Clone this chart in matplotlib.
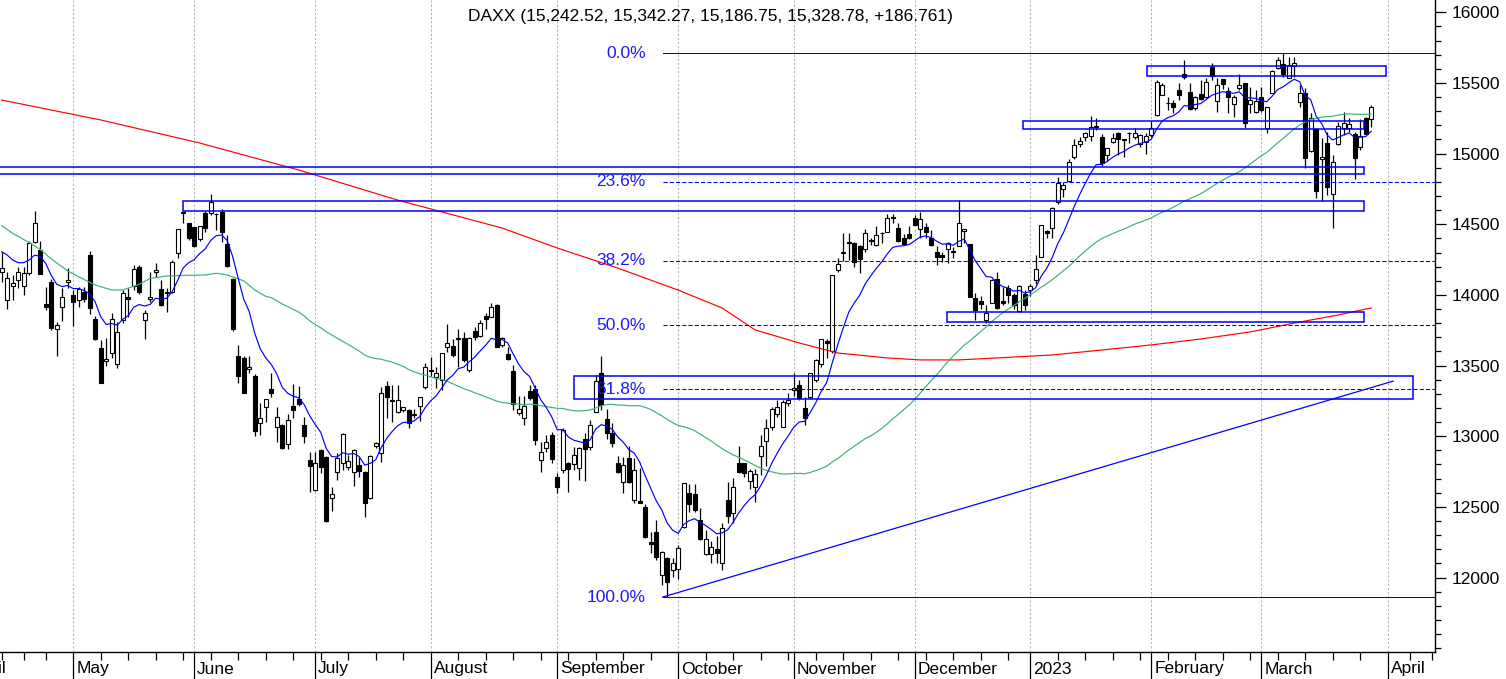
import numpy as np
import pandas as pd
import matplotlib
matplotlib.use("Agg")
from matplotlib import pyplot as plt
from matplotlib.patches import Rectangle
import matplotlib.transforms as mtransforms

plt.rcParams["font.family"] = ["Liberation Sans", "DejaVu Sans"]

# --- daily candles, 11 Apr 2022 .. 29 Mar 2023 ---
first_day = "2022-04-11"
holidays = ["2022-04-15", "2022-04-18", "2022-12-26", "2023-04-07", "2023-04-10"]

opens = [
    14160, 13964, 14063, 14105, 14063, 14152, 14372, 14317, 13935, 14089,
    13756, 13912, 14089, 14000, 13964, 14018, 14282, 13827, 13622, 13530,
    13586, 13511, 13822, 13987, 14065, 14195, 13822, 13969, 14160, 14039,
    14010, 14018, 14294, 14580, 14506, 14478, 14393, 14582, 14577, 14575,
    14589, 14360, 14113, 13568, 13551, 13473, 13428, 13091, 13204, 13332,
    13063, 13079, 12945, 13214, 13261, 13079, 12830, 12619, 12903, 12855,
    12560, 12749, 12808, 12780, 12749, 12796, 12749, 12560, 12930, 12879,
    13355, 13250, 13174, 13186, 13186, 13150, 13214, 13351, 13465, 13417,
    13398, 13634, 13638, 13685, 13693, 13469, 13744, 13709, 13853, 13846,
    13928, 13645, 13582, 13461, 13162, 13127, 13322, 13332, 12831, 12914,
    13008, 12714, 12761, 12813, 12803, 12773, 12978, 12921, 13174, 13445,
    13119, 13025, 12808, 12678, 12843, 12549, 12540, 12497, 12250, 12325,
    12018, 12136, 12053, 12060, 12355, 12600, 12591, 12407, 12166, 12166,
    12199, 12105, 12548, 12459, 12808, 12808, 12685, 12638, 12860, 12968,
    13063, 13157, 13068, 13233, 13330, 13362, 13200, 13280, 13398, 13511,
    13675, 13605, 14176, 14294, 14370, 14370, 14346, 14322, 14385, 14353,
    14436, 14448, 14545, 14471, 14400, 14431, 14542, 14464, 14483, 14400,
    14306, 14282, 14322, 14310, 14346, 14454, 14360, 13976, 13960, 13822,
    13940, 14110, 13960, 14051, 13999, 13888, 14006, 14035, 14105, 14271,
    14452, 14471, 14660, 14747, 14806, 14974, 15066, 15115, 15125, 15190,
    15115, 14990, 15082, 15143, 15100, 15145, 15115, 15068, 15085, 15132,
    15273, 15415, 15355, 15360, 15450, 15563, 15438, 15320, 15422, 15398,
    15611, 15375, 15526, 15445, 15351, 15462, 15497, 15351, 15297, 15398,
    15179, 15431, 15603, 15634, 15533, 15620, 15368, 15431, 15019, 15172,
    14960, 15073, 14712, 15066, 15179, 15179, 15136, 15050, 15254, 15242.52,
]
highs = [
    14306, 14164, 14141, 14195, 14200, 14380, 14593, 14380, 14058, 14110,
    13810, 14046, 14188, 14035, 14058, 14058, 14311, 13851, 13681, 13693,
    13870, 13811, 14035, 14046, 14212, 14212, 13890, 14164, 14223, 14105,
    14046, 14247, 14464, 14596, 14511, 14483, 14490, 14596, 14714, 14582,
    14606, 14424, 14117, 13646, 13568, 13568, 13438, 13233, 13261, 13450,
    13204, 13085, 13157, 13370, 13355, 13134, 12891, 12891, 12907, 12860,
    12640, 12879, 13020, 12867, 12907, 12855, 12755, 12867, 12961, 13351,
    13393, 13362, 13362, 13210, 13190, 13190, 13280, 13520, 13563, 13492,
    13591, 13792, 13686, 13756, 13740, 13700, 13775, 13822, 13874, 13945,
    13935, 13700, 13634, 13504, 13285, 13285, 13362, 13362, 12961, 13008,
    13032, 12737, 13056, 12820, 12921, 12926, 13020, 13115, 13433, 13568,
    13190, 13096, 12860, 12855, 12931, 12843, 12773, 12520, 12325, 12407,
    12190, 12147, 12136, 12230, 12667, 12662, 12662, 12490, 12336, 12261,
    12294, 12383, 12678, 12702, 12931, 12810, 12766, 12766, 13008, 13119,
    13204, 13256, 13256, 13308, 13450, 13398, 13280, 13450, 13544, 13686,
    13690, 14141, 14259, 14436, 14436, 14377, 14353, 14464, 14400, 14488,
    14448, 14573, 14573, 14506, 14431, 14488, 14565, 14589, 14506, 14459,
    14346, 14306, 14377, 14341, 14672, 14464, 14360, 14011, 13990, 13928,
    14110, 14164, 14058, 14070, 14010, 14070, 14035, 14075, 14282, 14495,
    14459, 14620, 14832, 14801, 14959, 15101, 15120, 15155, 15266, 15250,
    15139, 15037, 15143, 15150, 15105, 15155, 15179, 15139, 15143, 15233,
    15521, 15497, 15403, 15379, 15497, 15662, 15497, 15408, 15521, 15533,
    15639, 15533, 15530, 15474, 15415, 15563, 15500, 15474, 15450, 15474,
    15332, 15592, 15681, 15710, 15686, 15681, 15485, 15462, 15285, 15179,
    15108, 15155, 14990, 15226, 15292, 15250, 15155, 15245, 15261, 15342.27,
]
lows = [
    14093, 13897, 13964, 14046, 14000, 14140, 14365, 14145, 13893, 13751,
    13570, 13817, 14046, 13780, 13917, 13952, 13865, 13681, 13379, 13500,
    13551, 13480, 13803, 13846, 14035, 14004, 13686, 13952, 14129, 13921,
    13877, 14011, 14259, 14511, 14388, 14337, 14385, 14448, 14565, 14459,
    14377, 14195, 13747, 13379, 13303, 13450, 13001, 13009, 13103, 13280,
    12961, 12912, 12907, 13127, 13214, 12950, 12607, 12610, 12742, 12395,
    12470, 12690, 12761, 12761, 12650, 12714, 12431, 12555, 12914, 12820,
    13126, 13103, 13162, 13170, 13056, 13130, 13110, 13332, 13426, 13339,
    13327, 13598, 13563, 13492, 13527, 13457, 13681, 13704, 13756, 13841,
    13629, 13634, 13539, 13186, 13150, 13079, 13256, 12938, 12749, 12890,
    12813, 12595, 12742, 12607, 12761, 12690, 12685, 12902, 13170, 13185,
    12978, 12921, 12742, 12600, 12671, 12530, 12525, 12277, 12171, 12124,
    11950, 11862, 12006, 11990, 12350, 12466, 12466, 12266, 12159, 12100,
    12100, 12053, 12388, 12383, 12737, 12714, 12624, 12537, 12726, 12789,
    13044, 13134, 13068, 13214, 13285, 13256, 13080, 13261, 13386, 13492,
    13551, 13591, 14164, 14242, 14247, 14200, 14153, 14306, 14353, 14346,
    14365, 14448, 14506, 14377, 14353, 14395, 14495, 14400, 14400, 14346,
    14212, 14235, 14228, 14259, 14346, 14365, 13983, 13822, 13900, 13799,
    13940, 13898, 13928, 13940, 13900, 13880, 13895, 13990, 14077, 14271,
    14400, 14400, 14643, 14695, 14801, 14959, 15049, 15092, 15092, 15167,
    14912, 14950, 15073, 14990, 14978, 15073, 15101, 15049, 14997, 15120,
    15266, 15415, 15309, 15285, 15379, 15526, 15309, 15309, 15379, 15391,
    15521, 15297, 15455, 15285, 15261, 15450, 15179, 15285, 15290, 15297,
    15148, 15427, 15600, 15545, 15533, 15545, 15327, 14896, 15013, 14683,
    14665, 14707, 14471, 15061, 15132, 15150, 14820, 15026, 15140, 15186.75,
]
closes = [
    14188, 14117, 14082, 14159, 14152, 14369, 14506, 14145, 13917, 13763,
    13787, 13983, 14103, 13947, 14042, 13971, 13905, 13686, 13379, 13544,
    13827, 13735, 14011, 13969, 14183, 14018, 13874, 13985, 14176, 13926,
    14018, 14230, 14464, 14584, 14400, 14346, 14487, 14471, 14655, 14570,
    14448, 14205, 13759, 13428, 13308, 13487, 13039, 13127, 13261, 13303,
    13138, 12919, 13115, 13186, 13228, 13001, 12789, 12808, 12780, 12401,
    12594, 12844, 13013, 12827, 12903, 12756, 12525, 12862, 12949, 13303,
    13280, 13256, 13256, 13205, 13096, 13160, 13275, 13487, 13469, 13445,
    13586, 13657, 13575, 13693, 13539, 13697, 13704, 13803, 13827, 13912,
    13634, 13697, 13546, 13228, 13190, 13214, 13268, 12973, 12891, 12961,
    12836, 12638, 13044, 12766, 12867, 12914, 12907, 13079, 13393, 13221,
    13025, 12954, 12745, 12796, 12675, 12761, 12530, 12284, 12235, 12147,
    12183, 11971, 12105, 12209, 12667, 12520, 12478, 12270, 12270, 12214,
    12171, 12348, 12435, 12638, 12749, 12742, 12756, 12733, 12931, 13056,
    13190, 13204, 13244, 13253, 13339, 13268, 13130, 13450, 13539, 13686,
    13662, 14141, 14219, 14306, 14377, 14235, 14252, 14436, 14389, 14424,
    14440, 14542, 14549, 14384, 14360, 14400, 14495, 14535, 14448, 14353,
    14266, 14266, 14370, 14306, 14506, 14464, 13987, 13893, 13935, 13874,
    14105, 13905, 13940, 13997, 13928, 14063, 13928, 14065, 14181, 14495,
    14436, 14613, 14794, 14778, 14943, 15061, 15092, 15143, 15186, 15195,
    14931, 15037, 15108, 15101, 15096, 15148, 15148, 15132, 15128, 15179,
    15509, 15485, 15360, 15327, 15415, 15545, 15313, 15403, 15384, 15509,
    15549, 15486, 15493, 15403, 15403, 15485, 15219, 15379, 15375, 15309,
    15327, 15587, 15662, 15563, 15627, 15639, 15431, 14967, 15250, 14738,
    14978, 14766, 14938, 15198, 15214, 15207, 14967, 15128, 15142.02, 15328.78,
]

# moving averages: blue = 10 day exponential, green = 50 day simple (computed
# once enough closes exist), red = 200 day (its history
# is not in the window)
blue_head = [14306, 14282, 14247, 14228, 14228, 14247, 14282, 14271, 14223]
green_head_idx = [0, 2, 5, 7, 9, 12, 14, 17, 20, 22, 25, 27, 30, 33, 37, 39, 41, 44, 46, 48]
green_head_val = [14490, 14436, 14370, 14322, 14255, 14170, 14128, 14070, 14035, 14035,
                  14075, 14117, 14134, 14138, 14141, 14153, 14141, 14100, 14035, 13990]
red_idx = [0, 18, 36, 54, 72, 91, 101, 112, 123, 131, 137, 145, 152, 161, 167,
           174, 181, 191, 200, 209, 218, 227, 236, 243, 249]
red_val = [15379, 15238, 15075, 14884, 14671, 14473, 14332, 14190, 14034, 13907,
           13752, 13660, 13589, 13554, 13540, 13540, 13554, 13575, 13610, 13646,
           13688, 13738, 13808, 13858, 13908]

# drawn zones (start idx, end idx, low, high), trend line, fibonacci
zone_start = [208.2, 185.7, -1.0, 33.0, 171.9, 104.1]
zone_end = [251.6, 247.7, 247.7, 247.7, 247.7, 256.6]
zone_low = [15549, 15172, 14853, 14594, 13806, 13261]
zone_high = [15622, 15231, 14905, 14665, 13877, 13426]
trend_x = [120.2, 253.0]
trend_y = [11862, 13390]
fib_ratios = [0.0, 0.236, 0.382, 0.5, 0.618, 1.0]
fib_anchor = 120.2
title = "DAXX (15,242.52, 15,342.27, 15,186.75, 15,328.78, +186.761)"

# --- calendar ---
cal = pd.bdate_range("2022-04-01", "2023-04-21")
cal = cal[~cal.isin(pd.to_datetime(holidays))]
start = cal.get_loc(pd.Timestamp(first_day))
pos = np.arange(len(cal)) - start
month_mask = np.r_[True, cal.month[1:] != cal.month[:-1]]
weeks = cal.isocalendar().week.to_numpy()
week_mask = np.r_[True, weeks[1:] != weeks[:-1]]
month_pos = pos[month_mask]
month_names = [d.strftime("%B") if d.month != 1 else str(d.year) for d in cal[month_mask]]
week_pos = pos[week_mask & ~month_mask]

o = np.array(opens, dtype=float)
h = np.array(highs, dtype=float)
l = np.array(lows, dtype=float)
c = np.array(closes, dtype=float)
n = len(c)
x = np.arange(n)

alpha = 2 / (10 + 1)
blue = np.empty(n)
blue[: len(blue_head)] = blue_head
for i in range(len(blue_head), n):
    blue[i] = blue[i - 1] + alpha * (c[i] - blue[i - 1])
sma50 = pd.Series(c).rolling(50).mean().to_numpy()
green_x = green_head_idx + list(range(49, n))
green_y = green_head_val + list(sma50[49:])

W, H = 1506, 679
XMIN, XMAX = -0.31, 260.6
fig = plt.figure(figsize=(W / 100, H / 100), dpi=100)
ax = fig.add_axes([0, 27 / H, 1435 / W, 1 - 27 / H])

# candles
ax.vlines(x, l, h, color="black", lw=0.9, zorder=2)
up = c >= o
ax.bar(x, np.abs(c - o), bottom=np.minimum(o, c), width=0.74,
       color=np.where(up, "white", "black"), edgecolor="black", linewidth=0.8, zorder=3)

# moving averages
ax.plot(red_idx, red_val, color="#ff0000", lw=0.85, zorder=4)
ax.plot(green_x, green_y, color="#3cb371", lw=0.85, zorder=4)
ax.plot(x, blue, color="#0000ff", lw=0.85, zorder=4)

# zones and trend
for x0, x1, lo, hi in zip(zone_start, zone_end, zone_low, zone_high):
    ax.add_patch(Rectangle((x0, lo), x1 - x0, hi - lo, fill=False,
                           edgecolor="#0000ff", lw=1.1, zorder=5))
ax.plot(trend_x, trend_y, color="#0000ff", lw=0.9, zorder=5)

# fibonacci retracement
fib_top = h.max()
fib_bottom = l.min()
for r in fib_ratios:
    lvl = fib_top - r * (fib_top - fib_bottom)
    ls = "-" if r in (0.0, 1.0) else (0, (4, 2))
    ax.plot([fib_anchor, XMAX], [lvl, lvl], color="#0000ff", lw=0.75, ls=ls, zorder=5)
    ax.text(fib_anchor - 3.1, lvl, f"{r * 100:.1f}%", color="#1a1aff", fontsize=12.5,
            ha="right", va="center", zorder=6)

# axes styling
for side in ("top", "left"):
    ax.spines[side].set_visible(False)
ax.spines["right"].set_linewidth(1.0)
ax.spines["bottom"].set_linewidth(1.0)
ax.yaxis.tick_right()
ax.set_yticks(np.arange(12000, 16001, 500))
ax.set_yticks(np.arange(11500, 16001, 100), minor=True)
ax.tick_params(axis="y", which="major", length=8, width=0.9, pad=4, labelsize=12.5)
ax.tick_params(axis="y", which="minor", length=4, width=0.9)
ax.set_xticks(month_pos)
ax.set_xticks(week_pos, minor=True)
ax.tick_params(axis="x", which="major", length=19.5, width=0.9, labelbottom=False)
ax.tick_params(axis="x", which="minor", length=5.8, width=0.9)
ax.grid(axis="x", which="major", color="#b4b4b4", lw=0.75, ls=(0, (2, 2)))
ax.set_axisbelow(True)
ax.set_xlim(XMIN, XMAX)
ax.set_ylim(11473, 16087)

# month names sit right of their tick; the first one runs off the left edge
trans = mtransforms.blended_transform_factory(ax.transData, fig.transFigure)
for p, name in zip(month_pos, month_names):
    if p > XMAX:
        continue
    ax.text(p + 0.55, 10 / H, name, transform=trans, fontsize=12.5,
            ha="left", va="center", clip_on=False)

fig.text(710 / W, 1 - 16 / H, title, ha="center", va="center", fontsize=12.5)

fig.savefig("out.png", dpi=100)
